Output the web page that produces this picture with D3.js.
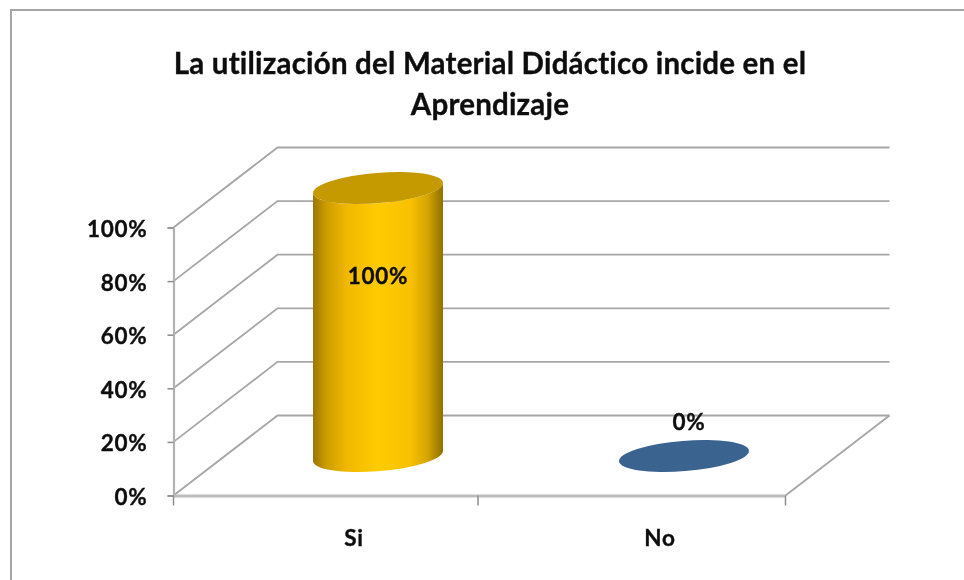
<!DOCTYPE html>
<html><head><meta charset="utf-8">
<script src="https://cdn.jsdelivr.net/npm/d3@7/dist/d3.min.js"></script>
<style>html,body{margin:0;padding:0;background:#fff}svg{display:block}
text{font-family:Lato,"Open Sans",sans-serif;font-weight:700;fill:#111;stroke:#111;stroke-width:0.35px;font-variant-ligatures:none}</style>
</head><body><svg id="c" width="964" height="580"></svg>
<script>
const categories = ["Si","No"];
const values = [1,0];
const valueLabels = ["100%","0%"];
const colors = ["#FFCC00","#3B6490"];
const yTicks = [0,0.2,0.4,0.6,0.8,1];
const titleLines = ["La utilización del Material Didáctico incide en el","Aprendizaje"];

const svg = d3.select("#c");
const defs = svg.append("defs");
const soft = defs.append("filter").attr("id","soft").attr("x","-5%").attr("y","-5%").attr("width","110%").attr("height","110%");
soft.append("feGaussianBlur").attr("stdDeviation",0.5);
const grad = defs.append("linearGradient").attr("id","gold");
[[0,"#9A7600"],[0.1,"#CC9C00"],[0.25,"#F0B700"],[0.5,"#FFCC00"],[0.75,"#F8C000"],[0.88,"#D5A500"],[1,"#8F6F00"]]
 .forEach(s=>grad.append("stop").attr("offset",s[0]).attr("stop-color",s[1]));

const root = svg.append("g").attr("filter","url(#soft)");
root.append("rect").attr("x",11).attr("y",10).attr("width",960).attr("height",580)
  .attr("fill","#fff").attr("stroke","#a6a6a6").attr("stroke-width",2);

const left=173.5, right=785.5, depthX=104, depthY=-80;
const y = d3.scaleLinear().domain([0,1]).range([495.5,227.5]);
const x = d3.scaleBand().domain(categories).range([left,right]);

const grid = root.append("g");
yTicks.forEach(t=>{
  grid.append("polyline")
    .attr("points",[[left,y(t)],[left+depthX,y(t)+depthY],[right+depthX,y(t)+depthY]].join(" "))
    .attr("fill","none").attr("stroke","#a6a6a6").attr("stroke-width",1.8);
});
root.append("polyline").attr("points",[[right,y(0)],[right+depthX,y(0)+depthY]].join(" "))
  .attr("fill","none").attr("stroke","#a6a6a6").attr("stroke-width",1.8);

const yAxis = d3.axisLeft(y).tickValues(yTicks).tickFormat(d3.format(".0%")).tickSize(6).tickPadding(20);
const gy = root.append("g").attr("transform",`translate(${left},0)`).call(yAxis);
gy.select(".domain").attr("stroke","#b3b3b3").attr("stroke-width",2.2);
gy.selectAll(".tick line").attr("stroke","#8c8c8c").attr("stroke-width",1.5);
gy.selectAll("text").attr("font-size",22.5).attr("dy","0.4em").style("font-family","Lato").style("letter-spacing","0.75px").attr("x",-26);

const xAxis = d3.axisBottom(x).tickValues([]).tickSize(0);
const gx = root.append("g").attr("transform",`translate(0,${y(0)})`).call(xAxis);
gx.select(".domain").attr("stroke","#bdbdbd").attr("stroke-width",2.8);
[left,x("No")-1.5,right].forEach(px=>gx.append("line").attr("x1",px).attr("x2",px).attr("y1",0).attr("y2",10).attr("stroke","#8c8c8c").attr("stroke-width",1.5));
categories.forEach(c=>{
  root.append("text").attr("x",x(c)+x.bandwidth()/2+27.5).attr("y",545.5).attr("text-anchor","middle").attr("font-size",22.5).style("letter-spacing","0.75px").text(c);
});

const rx=65.2, ry=15.15, rot=-4.65, tx=65, ty=5;
categories.forEach((c,i)=>{
  const cx=x(c)+x.bandwidth()/2+depthX/2-0.5;
  const by=y(0)+depthY/2+0.5, topY=by-(y(0)-y(values[i]));
  if(values[i]>0){
    root.append("path").attr("d",`M${cx-tx},${topY+ty}L${cx-tx},${by+ty}A${rx},${ry} ${rot} 0 0 ${cx+tx},${by-ty}L${cx+tx},${topY-ty}A${rx},${ry} ${rot} 0 1 ${cx-tx},${topY+ty}Z`)
      .attr("fill","url(#gold)");
    root.append("ellipse").attr("cx",cx).attr("cy",topY).attr("rx",rx).attr("ry",ry)
      .attr("transform",`rotate(${rot} ${cx} ${topY})`).attr("fill","#C49A00");
    root.append("text").attr("x",cx).attr("y",284).attr("text-anchor","middle").attr("font-size",22.5).style("letter-spacing","0.75px").text(valueLabels[i]);
  } else {
    root.append("ellipse").attr("cx",cx).attr("cy",by).attr("rx",rx).attr("ry",ry)
      .attr("transform",`rotate(${rot} ${cx} ${by})`).attr("fill",colors[i]);
    root.append("text").attr("x",cx+5).attr("y",430).attr("text-anchor","middle").attr("font-size",22.5).style("letter-spacing","0.75px").text(valueLabels[i]);
  }
});

titleLines.forEach((t,i)=>{
  root.append("text").attr("x",490).attr("y",74+i*41).attr("text-anchor","middle").attr("font-size",29.5).style("letter-spacing","0.2px").text(t);
});
</script></body></html>
